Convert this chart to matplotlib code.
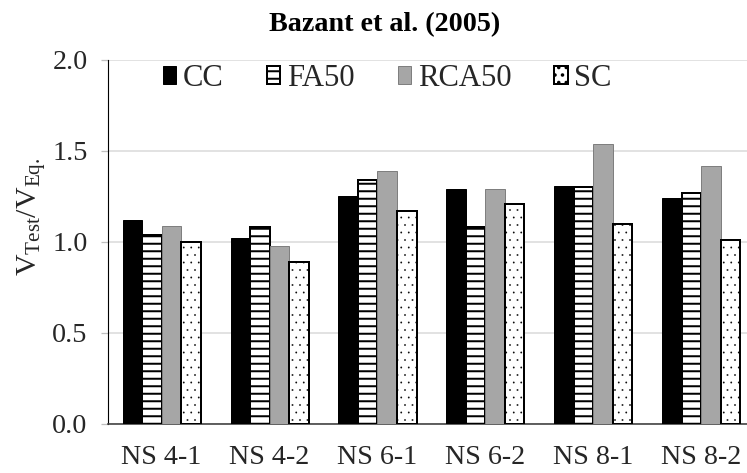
import numpy as np
import matplotlib
matplotlib.use("Agg")
import matplotlib.pyplot as plt

plt.rcParams['font.family'] = ['Liberation Serif', 'DejaVu Serif']
plt.rcParams['mathtext.fontset'] = 'custom'
plt.rcParams['mathtext.rm'] = 'Liberation Serif'
plt.rcParams['mathtext.it'] = 'Liberation Serif:italic'

categories = ['NS 4-1', 'NS 4-2', 'NS 6-1', 'NS 6-2', 'NS 8-1', 'NS 8-2']
series_names = ['CC', 'FA50', 'RCA50', 'SC']
cc = [1.12, 1.02, 1.25, 1.29, 1.31, 1.24]
fa50 = [1.04, 1.08, 1.34, 1.08, 1.30, 1.27]
rca50 = [1.09, 0.98, 1.39, 1.29, 1.54, 1.42]
sc = [1.00, 0.89, 1.17, 1.21, 1.10, 1.01]
y_ticks = [0.0, 0.5, 1.0, 1.5, 2.0]

# fill style per series, plus the hatch stroke width used for it
styles = [
    (dict(facecolor='black', edgecolor='black', linewidth=0.8, hatch=None), 1.0),
    (dict(facecolor='white', edgecolor='black', linewidth=1.6, hatch='--'), 1.6),
    (dict(facecolor='#a6a6a6', edgecolor='#7f7f7f', linewidth=0.8, hatch=None), 1.0),
    (dict(facecolor='white', edgecolor='black', linewidth=1.6, hatch='..'), 0.2),
]

DPI = 90
fig = plt.figure(figsize=(747 / DPI, 473 / DPI), dpi=DPI)
ax = fig.add_axes([0.1442, 0.1036, 0.8558, 0.7696])

x = np.arange(len(categories))
w = 0.181
for i, (vals, (st, hlw)) in enumerate(zip([cc, fa50, rca50, sc], styles)):
    with plt.rc_context({'hatch.linewidth': hlw}):
        ax.bar(x + (i - 1.5) * w, vals, w, label=series_names[i], zorder=3, **st)

ax.set_xlim(-0.5, -0.5 + (747 - 107.7) / 107.9)
ax.set_ylim(0, 2.0)
ax.set_yticks(y_ticks)
ax.set_yticklabels([f'{v:.1f}' for v in y_ticks])
ax.set_xticks(x)
ax.set_xticklabels(categories)

ax.grid(axis='y', color='#d9d9d9', linewidth=1.2, zorder=0)
ax.set_axisbelow(True)
for s in ['top', 'right']:
    ax.spines[s].set_visible(False)
ax.spines['left'].set_color('black')
ax.spines['left'].set_linewidth(0.9)
ax.spines['bottom'].set_color('#404040')
ax.spines['bottom'].set_linewidth(1.3)

ax.tick_params(axis='y', length=6, width=1.0, color='#bfbfbf', pad=10,
               labelsize=22.5, labelcolor='#262626')
ax.tick_params(axis='x', length=0, pad=17, labelsize=22.5, labelcolor='#262626')

ax.set_ylabel(r'V$_{\mathrm{Test}}$/V$_{\mathrm{Eq.}}$', fontsize=24, color='#262626')
ax.yaxis.set_label_coords(-0.094, 0.57)

fig.text(385 / 747, 1 - 25 / 473, 'Bazant et al. (2005)', ha='center', va='center',
         fontsize=22.5, fontweight='bold')

with plt.rc_context({'hatch.linewidth': 1.6}):
    leg = ax.legend(loc='center left', bbox_to_anchor=(0.0865, 0.95), ncol=4,
                    frameon=False, fontsize=24.5, handlelength=0.44, handleheight=0.5,
                    handletextpad=0.22, columnspacing=1.4, borderaxespad=0,
                    borderpad=0)
for t in leg.get_texts():
    t.set_color('#262626')

fig.savefig('out.png', dpi=DPI)
